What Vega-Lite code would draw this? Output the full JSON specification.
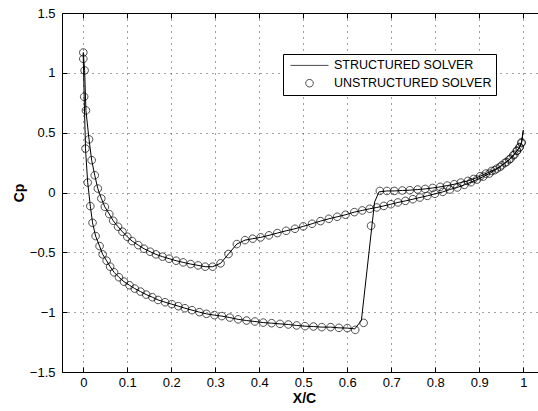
{
  "$schema": "https://vega.github.io/schema/vega-lite/v6.json",
  "width": 476,
  "height": 359,
  "autosize": {"type": "none"},
  "padding": {"left": 62, "top": 13, "right": 0, "bottom": 39},
  "background": "white",
  "config": {
    "view": {"stroke": null},
    "font": "Liberation Sans",
    "legend": {"strokeWidth": 1}
  },
  "datasets": {
    "structured": [
      {"o": 0, "x": 1.0, "cp": 0.52},
      {"o": 1, "x": 0.996, "cp": 0.42},
      {"o": 2, "x": 0.992, "cp": 0.38},
      {"o": 3, "x": 0.986, "cp": 0.35},
      {"o": 4, "x": 0.98, "cp": 0.317},
      {"o": 5, "x": 0.971, "cp": 0.283},
      {"o": 6, "x": 0.962, "cp": 0.255},
      {"o": 7, "x": 0.951, "cp": 0.227},
      {"o": 8, "x": 0.94, "cp": 0.2},
      {"o": 9, "x": 0.928, "cp": 0.18},
      {"o": 10, "x": 0.915, "cp": 0.158},
      {"o": 11, "x": 0.902, "cp": 0.136},
      {"o": 12, "x": 0.887, "cp": 0.113},
      {"o": 13, "x": 0.874, "cp": 0.097},
      {"o": 14, "x": 0.858, "cp": 0.083},
      {"o": 15, "x": 0.843, "cp": 0.069},
      {"o": 16, "x": 0.827, "cp": 0.058},
      {"o": 17, "x": 0.811, "cp": 0.047},
      {"o": 18, "x": 0.794, "cp": 0.038},
      {"o": 19, "x": 0.777, "cp": 0.03},
      {"o": 20, "x": 0.76, "cp": 0.025},
      {"o": 21, "x": 0.742, "cp": 0.019},
      {"o": 22, "x": 0.725, "cp": 0.017},
      {"o": 23, "x": 0.707, "cp": 0.013},
      {"o": 24, "x": 0.69, "cp": 0.013},
      {"o": 25, "x": 0.672, "cp": 0.005},
      {"o": 26, "x": 0.662, "cp": -0.08},
      {"o": 27, "x": 0.632, "cp": -1.07},
      {"o": 28, "x": 0.617, "cp": -1.14},
      {"o": 29, "x": 0.6, "cp": -1.133},
      {"o": 30, "x": 0.581, "cp": -1.131},
      {"o": 31, "x": 0.562, "cp": -1.125},
      {"o": 32, "x": 0.542, "cp": -1.125},
      {"o": 33, "x": 0.523, "cp": -1.12},
      {"o": 34, "x": 0.504, "cp": -1.117},
      {"o": 35, "x": 0.485, "cp": -1.111},
      {"o": 36, "x": 0.466, "cp": -1.103},
      {"o": 37, "x": 0.447, "cp": -1.098},
      {"o": 38, "x": 0.428, "cp": -1.092},
      {"o": 39, "x": 0.409, "cp": -1.087},
      {"o": 40, "x": 0.39, "cp": -1.078},
      {"o": 41, "x": 0.371, "cp": -1.07},
      {"o": 42, "x": 0.352, "cp": -1.06},
      {"o": 43, "x": 0.333, "cp": -1.045},
      {"o": 44, "x": 0.315, "cp": -1.033},
      {"o": 45, "x": 0.298, "cp": -1.025},
      {"o": 46, "x": 0.28, "cp": -1.014},
      {"o": 47, "x": 0.264, "cp": -1.0},
      {"o": 48, "x": 0.247, "cp": -0.983},
      {"o": 49, "x": 0.231, "cp": -0.967},
      {"o": 50, "x": 0.216, "cp": -0.95},
      {"o": 51, "x": 0.201, "cp": -0.933},
      {"o": 52, "x": 0.186, "cp": -0.917},
      {"o": 53, "x": 0.17, "cp": -0.898},
      {"o": 54, "x": 0.157, "cp": -0.875},
      {"o": 55, "x": 0.143, "cp": -0.853},
      {"o": 56, "x": 0.13, "cp": -0.828},
      {"o": 57, "x": 0.117, "cp": -0.803},
      {"o": 58, "x": 0.105, "cp": -0.775},
      {"o": 59, "x": 0.0925, "cp": -0.745},
      {"o": 60, "x": 0.081, "cp": -0.708},
      {"o": 61, "x": 0.07, "cp": -0.667},
      {"o": 62, "x": 0.061, "cp": -0.62},
      {"o": 63, "x": 0.053, "cp": -0.57},
      {"o": 64, "x": 0.044, "cp": -0.517},
      {"o": 65, "x": 0.037, "cp": -0.448},
      {"o": 66, "x": 0.028, "cp": -0.364},
      {"o": 67, "x": 0.021, "cp": -0.253},
      {"o": 68, "x": 0.016, "cp": -0.114},
      {"o": 69, "x": 0.01, "cp": 0.083},
      {"o": 70, "x": 0.005, "cp": 0.367},
      {"o": 71, "x": 0.002, "cp": 0.8},
      {"o": 72, "x": 0.0, "cp": 1.117},
      {"o": 73, "x": 0.0, "cp": 1.17},
      {"o": 74, "x": 0.003, "cp": 1.02},
      {"o": 75, "x": 0.006, "cp": 0.686},
      {"o": 76, "x": 0.013, "cp": 0.444},
      {"o": 77, "x": 0.019, "cp": 0.27},
      {"o": 78, "x": 0.026, "cp": 0.144},
      {"o": 79, "x": 0.033, "cp": 0.033},
      {"o": 80, "x": 0.041, "cp": -0.05},
      {"o": 81, "x": 0.049, "cp": -0.12},
      {"o": 82, "x": 0.059, "cp": -0.18},
      {"o": 83, "x": 0.068, "cp": -0.236},
      {"o": 84, "x": 0.079, "cp": -0.286},
      {"o": 85, "x": 0.089, "cp": -0.328},
      {"o": 86, "x": 0.1, "cp": -0.37},
      {"o": 87, "x": 0.111, "cp": -0.406},
      {"o": 88, "x": 0.125, "cp": -0.44},
      {"o": 89, "x": 0.138, "cp": -0.47},
      {"o": 90, "x": 0.152, "cp": -0.495},
      {"o": 91, "x": 0.165, "cp": -0.517},
      {"o": 92, "x": 0.18, "cp": -0.536},
      {"o": 93, "x": 0.195, "cp": -0.553},
      {"o": 94, "x": 0.211, "cp": -0.57},
      {"o": 95, "x": 0.227, "cp": -0.584},
      {"o": 96, "x": 0.244, "cp": -0.598},
      {"o": 97, "x": 0.261, "cp": -0.609},
      {"o": 98, "x": 0.277, "cp": -0.62},
      {"o": 99, "x": 0.294, "cp": -0.62},
      {"o": 100, "x": 0.312, "cp": -0.592},
      {"o": 101, "x": 0.33, "cp": -0.514},
      {"o": 102, "x": 0.349, "cp": -0.431},
      {"o": 103, "x": 0.3675, "cp": -0.398},
      {"o": 104, "x": 0.385, "cp": -0.386},
      {"o": 105, "x": 0.403, "cp": -0.375},
      {"o": 106, "x": 0.422, "cp": -0.358},
      {"o": 107, "x": 0.441, "cp": -0.339},
      {"o": 108, "x": 0.461, "cp": -0.32},
      {"o": 109, "x": 0.481, "cp": -0.303},
      {"o": 110, "x": 0.5, "cp": -0.283},
      {"o": 111, "x": 0.52, "cp": -0.261},
      {"o": 112, "x": 0.539, "cp": -0.239},
      {"o": 113, "x": 0.558, "cp": -0.22},
      {"o": 114, "x": 0.577, "cp": -0.203},
      {"o": 115, "x": 0.596, "cp": -0.186},
      {"o": 116, "x": 0.616, "cp": -0.164},
      {"o": 117, "x": 0.634, "cp": -0.15},
      {"o": 118, "x": 0.651, "cp": -0.136},
      {"o": 119, "x": 0.667, "cp": -0.125},
      {"o": 120, "x": 0.683, "cp": -0.112},
      {"o": 121, "x": 0.699, "cp": -0.098},
      {"o": 122, "x": 0.715, "cp": -0.083},
      {"o": 123, "x": 0.732, "cp": -0.07},
      {"o": 124, "x": 0.749, "cp": -0.056},
      {"o": 125, "x": 0.765, "cp": -0.042},
      {"o": 126, "x": 0.782, "cp": -0.028},
      {"o": 127, "x": 0.799, "cp": -0.011},
      {"o": 128, "x": 0.817, "cp": 0.005},
      {"o": 129, "x": 0.833, "cp": 0.025},
      {"o": 130, "x": 0.85, "cp": 0.042},
      {"o": 131, "x": 0.866, "cp": 0.064},
      {"o": 132, "x": 0.881, "cp": 0.086},
      {"o": 133, "x": 0.895, "cp": 0.108},
      {"o": 134, "x": 0.909, "cp": 0.133},
      {"o": 135, "x": 0.923, "cp": 0.158},
      {"o": 136, "x": 0.935, "cp": 0.186},
      {"o": 137, "x": 0.947, "cp": 0.213},
      {"o": 138, "x": 0.958, "cp": 0.247},
      {"o": 139, "x": 0.968, "cp": 0.275},
      {"o": 140, "x": 0.977, "cp": 0.311},
      {"o": 141, "x": 0.985, "cp": 0.347},
      {"o": 142, "x": 0.991, "cp": 0.375},
      {"o": 143, "x": 0.996, "cp": 0.413},
      {"o": 144, "x": 1.0, "cp": 0.52}
    ],
    "unstructured": [
      {"solver": "UNSTRUCTURED SOLVER", "x": 0.0, "cp": 1.17},
      {"solver": "UNSTRUCTURED SOLVER", "x": 0.0, "cp": 1.117},
      {"solver": "UNSTRUCTURED SOLVER", "x": 0.002, "cp": 0.8},
      {"solver": "UNSTRUCTURED SOLVER", "x": 0.005, "cp": 0.367},
      {"solver": "UNSTRUCTURED SOLVER", "x": 0.01, "cp": 0.083},
      {"solver": "UNSTRUCTURED SOLVER", "x": 0.016, "cp": -0.114},
      {"solver": "UNSTRUCTURED SOLVER", "x": 0.021, "cp": -0.253},
      {"solver": "UNSTRUCTURED SOLVER", "x": 0.028, "cp": -0.364},
      {"solver": "UNSTRUCTURED SOLVER", "x": 0.037, "cp": -0.448},
      {"solver": "UNSTRUCTURED SOLVER", "x": 0.044, "cp": -0.517},
      {"solver": "UNSTRUCTURED SOLVER", "x": 0.053, "cp": -0.57},
      {"solver": "UNSTRUCTURED SOLVER", "x": 0.061, "cp": -0.62},
      {"solver": "UNSTRUCTURED SOLVER", "x": 0.07, "cp": -0.667},
      {"solver": "UNSTRUCTURED SOLVER", "x": 0.081, "cp": -0.708},
      {"solver": "UNSTRUCTURED SOLVER", "x": 0.0925, "cp": -0.745},
      {"solver": "UNSTRUCTURED SOLVER", "x": 0.105, "cp": -0.775},
      {"solver": "UNSTRUCTURED SOLVER", "x": 0.117, "cp": -0.803},
      {"solver": "UNSTRUCTURED SOLVER", "x": 0.13, "cp": -0.828},
      {"solver": "UNSTRUCTURED SOLVER", "x": 0.143, "cp": -0.853},
      {"solver": "UNSTRUCTURED SOLVER", "x": 0.157, "cp": -0.875},
      {"solver": "UNSTRUCTURED SOLVER", "x": 0.17, "cp": -0.898},
      {"solver": "UNSTRUCTURED SOLVER", "x": 0.186, "cp": -0.917},
      {"solver": "UNSTRUCTURED SOLVER", "x": 0.201, "cp": -0.933},
      {"solver": "UNSTRUCTURED SOLVER", "x": 0.216, "cp": -0.95},
      {"solver": "UNSTRUCTURED SOLVER", "x": 0.231, "cp": -0.967},
      {"solver": "UNSTRUCTURED SOLVER", "x": 0.247, "cp": -0.983},
      {"solver": "UNSTRUCTURED SOLVER", "x": 0.264, "cp": -1.0},
      {"solver": "UNSTRUCTURED SOLVER", "x": 0.28, "cp": -1.014},
      {"solver": "UNSTRUCTURED SOLVER", "x": 0.298, "cp": -1.025},
      {"solver": "UNSTRUCTURED SOLVER", "x": 0.315, "cp": -1.033},
      {"solver": "UNSTRUCTURED SOLVER", "x": 0.333, "cp": -1.045},
      {"solver": "UNSTRUCTURED SOLVER", "x": 0.352, "cp": -1.06},
      {"solver": "UNSTRUCTURED SOLVER", "x": 0.371, "cp": -1.07},
      {"solver": "UNSTRUCTURED SOLVER", "x": 0.39, "cp": -1.078},
      {"solver": "UNSTRUCTURED SOLVER", "x": 0.409, "cp": -1.087},
      {"solver": "UNSTRUCTURED SOLVER", "x": 0.428, "cp": -1.092},
      {"solver": "UNSTRUCTURED SOLVER", "x": 0.447, "cp": -1.098},
      {"solver": "UNSTRUCTURED SOLVER", "x": 0.466, "cp": -1.103},
      {"solver": "UNSTRUCTURED SOLVER", "x": 0.485, "cp": -1.111},
      {"solver": "UNSTRUCTURED SOLVER", "x": 0.504, "cp": -1.117},
      {"solver": "UNSTRUCTURED SOLVER", "x": 0.523, "cp": -1.12},
      {"solver": "UNSTRUCTURED SOLVER", "x": 0.542, "cp": -1.125},
      {"solver": "UNSTRUCTURED SOLVER", "x": 0.562, "cp": -1.125},
      {"solver": "UNSTRUCTURED SOLVER", "x": 0.581, "cp": -1.131},
      {"solver": "UNSTRUCTURED SOLVER", "x": 0.6, "cp": -1.133},
      {"solver": "UNSTRUCTURED SOLVER", "x": 0.618, "cp": -1.148},
      {"solver": "UNSTRUCTURED SOLVER", "x": 0.637, "cp": -1.089},
      {"solver": "UNSTRUCTURED SOLVER", "x": 0.654, "cp": -0.278},
      {"solver": "UNSTRUCTURED SOLVER", "x": 0.674, "cp": 0.013},
      {"solver": "UNSTRUCTURED SOLVER", "x": 0.69, "cp": 0.013},
      {"solver": "UNSTRUCTURED SOLVER", "x": 0.707, "cp": 0.013},
      {"solver": "UNSTRUCTURED SOLVER", "x": 0.725, "cp": 0.017},
      {"solver": "UNSTRUCTURED SOLVER", "x": 0.742, "cp": 0.019},
      {"solver": "UNSTRUCTURED SOLVER", "x": 0.76, "cp": 0.025},
      {"solver": "UNSTRUCTURED SOLVER", "x": 0.777, "cp": 0.03},
      {"solver": "UNSTRUCTURED SOLVER", "x": 0.794, "cp": 0.038},
      {"solver": "UNSTRUCTURED SOLVER", "x": 0.811, "cp": 0.047},
      {"solver": "UNSTRUCTURED SOLVER", "x": 0.827, "cp": 0.058},
      {"solver": "UNSTRUCTURED SOLVER", "x": 0.843, "cp": 0.069},
      {"solver": "UNSTRUCTURED SOLVER", "x": 0.858, "cp": 0.083},
      {"solver": "UNSTRUCTURED SOLVER", "x": 0.874, "cp": 0.097},
      {"solver": "UNSTRUCTURED SOLVER", "x": 0.887, "cp": 0.113},
      {"solver": "UNSTRUCTURED SOLVER", "x": 0.902, "cp": 0.136},
      {"solver": "UNSTRUCTURED SOLVER", "x": 0.915, "cp": 0.158},
      {"solver": "UNSTRUCTURED SOLVER", "x": 0.928, "cp": 0.18},
      {"solver": "UNSTRUCTURED SOLVER", "x": 0.94, "cp": 0.2},
      {"solver": "UNSTRUCTURED SOLVER", "x": 0.951, "cp": 0.227},
      {"solver": "UNSTRUCTURED SOLVER", "x": 0.962, "cp": 0.255},
      {"solver": "UNSTRUCTURED SOLVER", "x": 0.971, "cp": 0.283},
      {"solver": "UNSTRUCTURED SOLVER", "x": 0.98, "cp": 0.317},
      {"solver": "UNSTRUCTURED SOLVER", "x": 0.986, "cp": 0.35},
      {"solver": "UNSTRUCTURED SOLVER", "x": 0.992, "cp": 0.38},
      {"solver": "UNSTRUCTURED SOLVER", "x": 0.996, "cp": 0.42},
      {"solver": "UNSTRUCTURED SOLVER", "x": 0.003, "cp": 1.02},
      {"solver": "UNSTRUCTURED SOLVER", "x": 0.006, "cp": 0.686},
      {"solver": "UNSTRUCTURED SOLVER", "x": 0.013, "cp": 0.444},
      {"solver": "UNSTRUCTURED SOLVER", "x": 0.019, "cp": 0.27},
      {"solver": "UNSTRUCTURED SOLVER", "x": 0.026, "cp": 0.144},
      {"solver": "UNSTRUCTURED SOLVER", "x": 0.033, "cp": 0.033},
      {"solver": "UNSTRUCTURED SOLVER", "x": 0.041, "cp": -0.05},
      {"solver": "UNSTRUCTURED SOLVER", "x": 0.049, "cp": -0.12},
      {"solver": "UNSTRUCTURED SOLVER", "x": 0.059, "cp": -0.18},
      {"solver": "UNSTRUCTURED SOLVER", "x": 0.068, "cp": -0.236},
      {"solver": "UNSTRUCTURED SOLVER", "x": 0.079, "cp": -0.286},
      {"solver": "UNSTRUCTURED SOLVER", "x": 0.089, "cp": -0.328},
      {"solver": "UNSTRUCTURED SOLVER", "x": 0.1, "cp": -0.37},
      {"solver": "UNSTRUCTURED SOLVER", "x": 0.111, "cp": -0.406},
      {"solver": "UNSTRUCTURED SOLVER", "x": 0.125, "cp": -0.44},
      {"solver": "UNSTRUCTURED SOLVER", "x": 0.138, "cp": -0.47},
      {"solver": "UNSTRUCTURED SOLVER", "x": 0.152, "cp": -0.495},
      {"solver": "UNSTRUCTURED SOLVER", "x": 0.165, "cp": -0.517},
      {"solver": "UNSTRUCTURED SOLVER", "x": 0.18, "cp": -0.536},
      {"solver": "UNSTRUCTURED SOLVER", "x": 0.195, "cp": -0.553},
      {"solver": "UNSTRUCTURED SOLVER", "x": 0.211, "cp": -0.57},
      {"solver": "UNSTRUCTURED SOLVER", "x": 0.227, "cp": -0.584},
      {"solver": "UNSTRUCTURED SOLVER", "x": 0.244, "cp": -0.598},
      {"solver": "UNSTRUCTURED SOLVER", "x": 0.261, "cp": -0.609},
      {"solver": "UNSTRUCTURED SOLVER", "x": 0.277, "cp": -0.62},
      {"solver": "UNSTRUCTURED SOLVER", "x": 0.294, "cp": -0.62},
      {"solver": "UNSTRUCTURED SOLVER", "x": 0.312, "cp": -0.592},
      {"solver": "UNSTRUCTURED SOLVER", "x": 0.33, "cp": -0.514},
      {"solver": "UNSTRUCTURED SOLVER", "x": 0.349, "cp": -0.431},
      {"solver": "UNSTRUCTURED SOLVER", "x": 0.3675, "cp": -0.398},
      {"solver": "UNSTRUCTURED SOLVER", "x": 0.385, "cp": -0.386},
      {"solver": "UNSTRUCTURED SOLVER", "x": 0.403, "cp": -0.375},
      {"solver": "UNSTRUCTURED SOLVER", "x": 0.422, "cp": -0.358},
      {"solver": "UNSTRUCTURED SOLVER", "x": 0.441, "cp": -0.339},
      {"solver": "UNSTRUCTURED SOLVER", "x": 0.461, "cp": -0.32},
      {"solver": "UNSTRUCTURED SOLVER", "x": 0.481, "cp": -0.303},
      {"solver": "UNSTRUCTURED SOLVER", "x": 0.5, "cp": -0.283},
      {"solver": "UNSTRUCTURED SOLVER", "x": 0.52, "cp": -0.261},
      {"solver": "UNSTRUCTURED SOLVER", "x": 0.539, "cp": -0.239},
      {"solver": "UNSTRUCTURED SOLVER", "x": 0.558, "cp": -0.22},
      {"solver": "UNSTRUCTURED SOLVER", "x": 0.577, "cp": -0.203},
      {"solver": "UNSTRUCTURED SOLVER", "x": 0.596, "cp": -0.186},
      {"solver": "UNSTRUCTURED SOLVER", "x": 0.616, "cp": -0.164},
      {"solver": "UNSTRUCTURED SOLVER", "x": 0.634, "cp": -0.15},
      {"solver": "UNSTRUCTURED SOLVER", "x": 0.651, "cp": -0.136},
      {"solver": "UNSTRUCTURED SOLVER", "x": 0.667, "cp": -0.125},
      {"solver": "UNSTRUCTURED SOLVER", "x": 0.683, "cp": -0.112},
      {"solver": "UNSTRUCTURED SOLVER", "x": 0.699, "cp": -0.098},
      {"solver": "UNSTRUCTURED SOLVER", "x": 0.715, "cp": -0.083},
      {"solver": "UNSTRUCTURED SOLVER", "x": 0.732, "cp": -0.07},
      {"solver": "UNSTRUCTURED SOLVER", "x": 0.749, "cp": -0.056},
      {"solver": "UNSTRUCTURED SOLVER", "x": 0.765, "cp": -0.042},
      {"solver": "UNSTRUCTURED SOLVER", "x": 0.782, "cp": -0.028},
      {"solver": "UNSTRUCTURED SOLVER", "x": 0.799, "cp": -0.011},
      {"solver": "UNSTRUCTURED SOLVER", "x": 0.817, "cp": 0.005},
      {"solver": "UNSTRUCTURED SOLVER", "x": 0.833, "cp": 0.025},
      {"solver": "UNSTRUCTURED SOLVER", "x": 0.85, "cp": 0.042},
      {"solver": "UNSTRUCTURED SOLVER", "x": 0.866, "cp": 0.064},
      {"solver": "UNSTRUCTURED SOLVER", "x": 0.881, "cp": 0.086},
      {"solver": "UNSTRUCTURED SOLVER", "x": 0.895, "cp": 0.108},
      {"solver": "UNSTRUCTURED SOLVER", "x": 0.909, "cp": 0.133},
      {"solver": "UNSTRUCTURED SOLVER", "x": 0.923, "cp": 0.158},
      {"solver": "UNSTRUCTURED SOLVER", "x": 0.935, "cp": 0.186},
      {"solver": "UNSTRUCTURED SOLVER", "x": 0.947, "cp": 0.213},
      {"solver": "UNSTRUCTURED SOLVER", "x": 0.958, "cp": 0.247},
      {"solver": "UNSTRUCTURED SOLVER", "x": 0.968, "cp": 0.275},
      {"solver": "UNSTRUCTURED SOLVER", "x": 0.977, "cp": 0.311},
      {"solver": "UNSTRUCTURED SOLVER", "x": 0.985, "cp": 0.347},
      {"solver": "UNSTRUCTURED SOLVER", "x": 0.991, "cp": 0.375},
      {"solver": "UNSTRUCTURED SOLVER", "x": 0.996, "cp": 0.413}
    ]
  },
  "layer": [
    {
      "data": {"name": "structured"},
      "mark": {"type": "line", "color": "black", "strokeWidth": 1, "clip": true},
      "encoding": {
        "x": {
          "field": "x", "type": "quantitative",
          "scale": {"domain": [-0.0484, 1.0334], "nice": false, "zero": false},
          "axis": {
            "orient": "bottom",
            "values": [0, 0.1, 0.2, 0.3, 0.4, 0.5, 0.6, 0.7, 0.8, 0.9, 1],
            "format": "~g",
            "grid": true, "gridColor": "#444", "gridDash": [1, 5], "gridWidth": 1,
            "tickSize": -5, "tickColor": "black", "tickWidth": 1,
            "domainColor": "black", "domainWidth": 1,
            "labelFontSize": 13, "labelColor": "black", "labelPadding": 9,
            "labelFont": "Liberation Sans", "labelOverlap": false, "labelFlush": false,
            "title": "X/C", "titleFontSize": 14, "titleFontWeight": "bold",
            "titleColor": "black", "titleFont": "Liberation Sans",
            "titlePadding": 2, "titleX": 242
          }
        },
        "y": {
          "field": "cp", "type": "quantitative",
          "scale": {"domain": [-1.5, 1.5], "nice": false, "zero": false},
          "axis": {
            "orient": "left",
            "values": [-1.5, -1, -0.5, 0, 0.5, 1, 1.5],
            "format": "~g",
            "grid": true, "gridColor": "#444", "gridDash": [1, 5], "gridWidth": 1,
            "tickSize": -5, "tickColor": "black", "tickWidth": 1,
            "domainColor": "black", "domainWidth": 1,
            "labelFontSize": 13, "labelColor": "black", "labelPadding": 12,
            "labelFont": "Liberation Sans", "labelOverlap": false, "labelFlush": false,
            "title": "Cp", "titleFontSize": 14, "titleFontWeight": "bold",
            "titleColor": "black", "titleFont": "Liberation Sans", "titlePadding": 3
          }
        },
        "order": {"field": "o", "type": "quantitative"}
      }
    },
    {
      "data": {"name": "unstructured"},
      "mark": {"type": "point", "filled": false, "color": "black", "strokeWidth": 1, "size": 1444, "clip": true},
      "encoding": {
        "x": {
          "field": "x", "type": "quantitative",
          "axis": {
            "orient": "top",
            "values": [0, 0.1, 0.2, 0.3, 0.4, 0.5, 0.6, 0.7, 0.8, 0.9, 1],
            "labels": false, "grid": false,
            "tickSize": -5, "tickColor": "black", "tickWidth": 1,
            "domainColor": "black", "domainWidth": 1, "title": null
          }
        },
        "y": {"field": "cp", "type": "quantitative", "axis": null},
        "shape": {
          "field": "solver", "type": "nominal",
          "scale": {
            "domain": ["STRUCTURED SOLVER", "UNSTRUCTURED SOLVER"],
            "range": [
              "M-1,0H1",
              "M0.2,0C0.2,0.1105,0.1105,0.2,0,0.2C-0.1105,0.2,-0.2,0.1105,-0.2,0C-0.2,-0.1105,-0.1105,-0.2,0,-0.2C0.1105,-0.2,0.2,-0.1105,0.2,0Z"
            ]
          },
          "legend": {
            "title": null, "orient": "none", "legendX": 221, "legendY": 41,
            "strokeColor": "black", "fillColor": "white", "padding": 4,
            "symbolSize": 1444, "symbolStrokeWidth": 1, "symbolStrokeColor": "black",
            "symbolFillColor": "transparent", "symbolOffset": 3,
            "labelOffset": 5, "labelFontSize": 12.5, "labelColor": "black",
            "labelFont": "Liberation Sans", "labelLimit": 300,
            "rowPadding": 2.8, "clipHeight": 14.8
          }
        }
      }
    }
  ],
  "resolve": {"axis": {"x": "independent", "y": "independent"}}
}
